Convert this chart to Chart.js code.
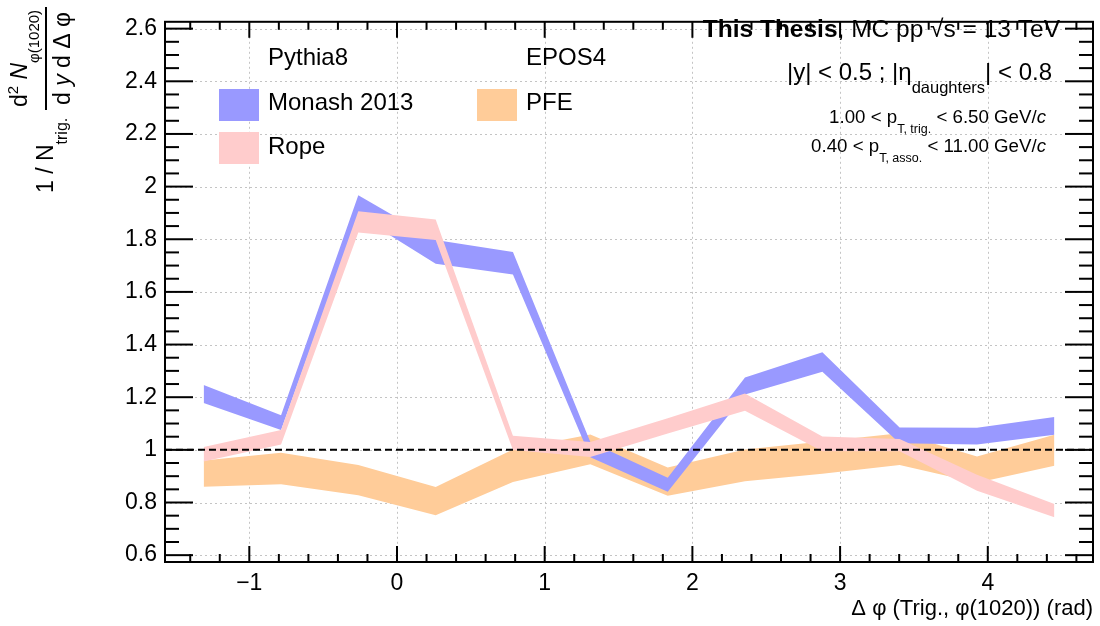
<!DOCTYPE html>
<html>
<head>
<meta charset="utf-8">
<script src="https://cdn.jsdelivr.net/npm/chart.js@4"></script>
<style>
  html, body { margin: 0; padding: 0; background: #fff; }
</style>
</head>
<body>
<canvas id="myChart" width="1100" height="626"></canvas>
<script>
// Delta phi bin centres (rad)
const dphi = [-1.309, -0.785, -0.262, 0.262, 0.785, 1.309, 1.833, 2.356, 2.880, 3.403, 3.927, 4.451];

// Pythia8 Monash 2013 band (upper / lower edge)
const monashHi = [1.246, 1.131, 1.967, 1.797, 1.752, 1.030, 0.894, 1.275, 1.371, 1.085, 1.084, 1.125];
const monashLo = [1.178, 1.075, 1.890, 1.707, 1.666, 0.972, 0.841, 1.210, 1.297, 1.025, 1.020, 1.057];

// Pythia8 Rope band
const ropeHi = [1.011, 1.075, 1.906, 1.875, 1.054, 1.030, 1.120, 1.214, 1.051, 1.041, 0.905, 0.794];
const ropeLo = [0.956, 1.020, 1.826, 1.797, 0.999, 0.973, 1.062, 1.149, 0.995, 0.995, 0.845, 0.744];

// EPOS4 PFE band
const pfeHi = [0.960, 0.989, 0.942, 0.859, 1.001, 1.058, 0.933, 1.001, 1.032, 1.063, 0.975, 1.057];
const pfeLo = [0.860, 0.869, 0.828, 0.752, 0.878, 0.945, 0.826, 0.881, 0.909, 0.942, 0.875, 0.940];

// axes
const xMin = -Math.PI / 2, xMax = 3 * Math.PI / 2;
const yMin = 0.574, yMax = 2.626;
const xTicks = [-1, 0, 1, 2, 3, 4];
const yTicks = [0.6, 0.8, 1.0, 1.2, 1.4, 1.6, 1.8, 2.0, 2.2, 2.4, 2.6];

const FONT = '"Liberation Sans", Arial, Helvetica, sans-serif';
const BLUE = 'rgb(153,153,255)', PINK = 'rgb(255,204,204)', ORANGE = 'rgb(255,204,153)';

const pts = vals => vals.map((v, i) => ({x: dphi[i], y: v}));
const band = (hi, lo, color) => [
    {data: pts(hi), backgroundColor: color, borderColor: 'transparent', borderWidth: 0, fill: '+1'},
    {data: pts(lo), backgroundColor: color, borderColor: 'transparent', borderWidth: 0, fill: false}
];

function line(ctx, x1, y1, x2, y2) {
    ctx.beginPath(); ctx.moveTo(x1, y1); ctx.lineTo(x2, y2); ctx.stroke();
}

// text pieces: [text, size, dy, style, 'over']
function richWidth(ctx, parts) {
    let w = 0;
    parts.forEach(p => { ctx.font = (p[3] || '') + ' ' + p[1] + 'px ' + FONT; w += ctx.measureText(p[0]).width; });
    return w;
}
function drawRich(ctx, parts, x, base) {
    let xx = x;
    parts.forEach(p => {
        ctx.font = (p[3] || '') + ' ' + p[1] + 'px ' + FONT;
        const w = ctx.measureText(p[0]).width;
        ctx.fillText(p[0], xx, base + (p[2] || 0));
        if (p[4] === 'over') {
            ctx.lineWidth = 1.5;
            line(ctx, xx - 1, base - p[1] * 0.62, xx + w + 1, base - p[1] * 0.62);
        }
        xx += w;
    });
}

const decorations = {
    id: 'decorations',
    beforeDatasetsDraw(chart) {
        const {ctx, chartArea: a, scales: {x, y}} = chart;
        ctx.save();
        ctx.strokeStyle = '#c4c4c4';
        ctx.lineWidth = 1;
        ctx.setLineDash([2, 3]);
        xTicks.forEach(v => {
            const px = Math.round(x.getPixelForValue(v)) + 0.5;
            line(ctx, px, a.top, px, a.bottom);
        });
        yTicks.forEach(v => {
            const py = Math.round(y.getPixelForValue(v)) + 0.5;
            line(ctx, a.left, py, a.right, py);
        });
        ctx.restore();
    },
    afterDatasetsDraw(chart) {
        const {ctx, chartArea: a, scales: {x, y}} = chart;
        ctx.save();
        ctx.strokeStyle = '#000';
        ctx.lineWidth = 2;
        // ticks on all four sides
        for (let v = -1.4; v < xMax; v += 0.2) {
            const px = x.getPixelForValue(v);
            const major = Math.abs(v - Math.round(v)) < 1e-6;
            const len = major ? 16 : 8;
            line(ctx, px, a.bottom, px, a.bottom - len);
            line(ctx, px, a.top, px, a.top + len);
        }
        for (let v = 0.6; v < yMax; v += 0.05) {
            const py = y.getPixelForValue(v);
            const major = Math.abs(v * 5 - Math.round(v * 5)) < 1e-6;
            const len = major ? 28 : 14;
            line(ctx, a.left, py, a.left + len, py);
            line(ctx, a.right, py, a.right - len, py);
        }
        ctx.strokeRect(a.left, a.top, a.right - a.left, a.bottom - a.top);
        ctx.restore();
    },
    afterDraw(chart) {
        const {ctx} = chart;
        ctx.save();
        ctx.fillStyle = '#000';
        ctx.strokeStyle = '#000';
        ctx.textBaseline = 'alphabetic';

        // legend
        ctx.font = '24px ' + FONT;
        ctx.fillText('Pythia8', 268, 65);
        ctx.fillText('EPOS4', 526, 65);
        ctx.fillStyle = BLUE; ctx.fillRect(219, 89, 40, 32);
        ctx.fillStyle = PINK; ctx.fillRect(219, 132, 40, 32);
        ctx.fillStyle = ORANGE; ctx.fillRect(477, 89, 40, 32);
        ctx.fillStyle = '#000';
        ctx.fillText('Monash 2013', 268, 110);
        ctx.fillText('Rope', 268, 154);
        ctx.fillText('PFE', 526, 110);

        // header text, right aligned
        const l1 = [['This Thesis', 24.5, 0, 'bold'], [', MC pp ', 24.5], ['\u221A', 24.5], ['s', 24.5, 0, '', 'over'], [' = 13 TeV', 24.5]];
        drawRich(ctx, l1, 1060 - richWidth(ctx, l1), 37);
        const l2 = [['|y| < 0.5 ; |\u03B7', 24], ['daughters', 16.5, 13], ['| < 0.8', 24]];
        drawRich(ctx, l2, 1052 - richWidth(ctx, l2), 80);
        const l3 = [['1.00 < p', 18.7], ['T, trig.', 12.5, 10], [' < 6.50 GeV/', 18.7], ['c', 18.7, 0, 'italic']];
        drawRich(ctx, l3, 1046 - richWidth(ctx, l3), 123);
        const l4 = [['0.40 < p', 18.7], ['T, asso.', 12.5, 10], [' < 11.00 GeV/', 18.7], ['c', 18.7, 0, 'italic']];
        drawRich(ctx, l4, 1046 - richWidth(ctx, l4), 152);

        // x title
        ctx.font = '22px ' + FONT;
        ctx.textAlign = 'right';
        ctx.fillText('\u0394 \u03C6 (Trig., \u03C6(1020)) (rad)', 1093, 615);
        ctx.textAlign = 'left';

        // y title (rotated)
        ctx.rotate(-Math.PI / 2);
        const pre = [['1 / N', 23], ['trig.', 16, 14]];
        drawRich(ctx, pre, -193, 53);
        const num = [['d', 23], ['2', 15, -9], [' N', 23, 0, 'italic'], ['\u03C6(1020)', 15, 12]];
        const den = [['d ', 23], ['y', 23, 0, 'italic'], [' d \u0394 \u03C6', 23]];
        const fc = -58.5;
        drawRich(ctx, num, fc - richWidth(ctx, num) / 2, 27);
        drawRich(ctx, den, fc - richWidth(ctx, den) / 2, 70);
        ctx.lineWidth = 2;
        line(ctx, -110, 46, -7, 46);
        ctx.restore();
    }
};

const ctx = document.getElementById('myChart').getContext('2d');
new Chart(ctx, {
    type: 'line',
    data: {
        datasets: [
            {data: [{x: xMin, y: 1}, {x: xMax, y: 1}], borderColor: '#000', borderWidth: 2, borderDash: [7, 4], fill: false},
            ...band(ropeHi, ropeLo, PINK),
            ...band(monashHi, monashLo, BLUE),
            ...band(pfeHi, pfeLo, ORANGE)
        ]
    },
    options: {
        responsive: false,
        animation: false,
        devicePixelRatio: 1,
        layout: {padding: {top: 8, right: 7, left: 0, bottom: 0}},
        elements: {point: {radius: 0}, line: {tension: 0}},
        plugins: {legend: {display: false}, tooltip: {enabled: false}},
        scales: {
            x: {
                type: 'linear', min: xMin, max: xMax,
                grid: {display: false, drawTicks: false}, border: {display: false},
                afterFit: s => { s.height = 64; },
                afterBuildTicks: s => { s.ticks = xTicks.map(v => ({value: v})); },
                ticks: {
                    font: {family: FONT, size: 23}, color: '#000', padding: 8,
                    maxRotation: 0, autoSkip: false,
                    callback: v => v < 0 ? '\u2212' + Math.abs(v) : String(v)
                }
            },
            y: {
                type: 'linear', min: yMin, max: yMax,
                grid: {display: false, drawTicks: false}, border: {display: false},
                afterFit: s => { s.width = 165; },
                afterBuildTicks: s => { s.ticks = yTicks.map(v => ({value: v})); },
                ticks: {
                    font: {family: FONT, size: 23}, color: '#000', padding: 8,
                    autoSkip: false,
                    callback: v => String(Math.round(v * 10) / 10)
                }
            }
        }
    },
    plugins: [decorations]
});
</script>
</body>
</html>
